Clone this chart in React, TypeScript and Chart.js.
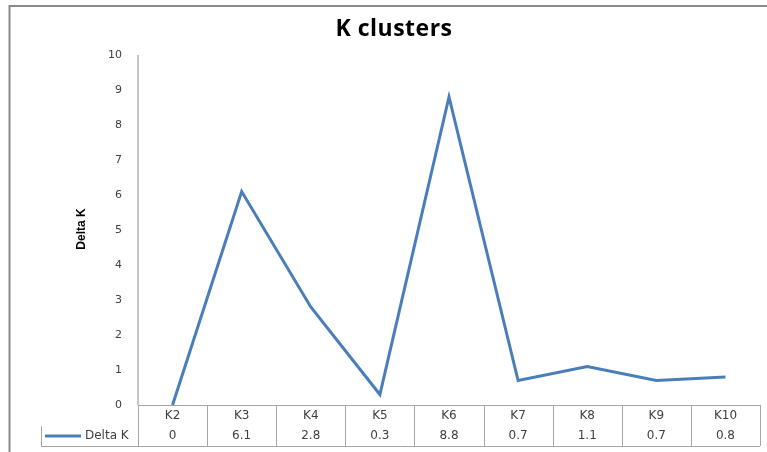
import React, { useEffect, useRef } from "react";
import { Chart, registerables } from "chart.js";

Chart.register(...registerables);

const categories = ["K2", "K3", "K4", "K5", "K6", "K7", "K8", "K9", "K10"];
const deltaK = [0, 6.1, 2.8, 0.3, 8.8, 0.7, 1.1, 0.7, 0.8];
const seriesName = "Delta K";
const chartTitle = "K clusters";
const yTitle = "Delta K";
const yMin = 0;
const yMax = 10;
const yStep = 1;

const LINE_COLOR = "#4A7EBB";
const GRID_GRAY = "#a6a6a6";
const TEXT = "#404040";
const TABLE_FONT = "12px 'DejaVu Sans', 'Liberation Sans', sans-serif";

const decorPlugin = {
  id: "decor",
  beforeDraw(chart: any) {
    const { ctx, width, height, chartArea } = chart;
    ctx.save();
    ctx.fillStyle = "#ffffff";
    ctx.fillRect(0, 0, width, height);
    // frame
    ctx.strokeStyle = "#8a8a8a";
    ctx.lineWidth = 2;
    ctx.beginPath();
    ctx.moveTo(9.5, height);
    ctx.lineTo(9.5, 6);
    ctx.lineTo(width, 6);
    ctx.stroke();
    // title
    ctx.fillStyle = "#000000";
    ctx.font = "bold 23px 'Open Sans', 'DejaVu Sans', sans-serif";
    ctx.textAlign = "center";
    ctx.textBaseline = "middle";
    try {
      (ctx as any).letterSpacing = "0.5px";
    } catch (e) {}
    ctx.fillText(chartTitle, 394, 29);
    try {
      (ctx as any).letterSpacing = "0px";
    } catch (e) {}
    // y title
    ctx.save();
    ctx.translate(82, 229);
    ctx.rotate(-Math.PI / 2);
    ctx.font = "bold 12px 'Liberation Sans Narrow', 'Liberation Sans', sans-serif";
    ctx.fillText(yTitle, 0, 0);
    ctx.restore();
    // y axis line
    ctx.strokeStyle = "#c4c4c4";
    ctx.lineWidth = 2;
    ctx.beginPath();
    ctx.moveTo(chartArea.left, chartArea.top);
    ctx.lineTo(chartArea.left, chartArea.bottom);
    ctx.stroke();
    ctx.restore();
  },
  afterDraw(chart: any) {
    const { ctx, chartArea } = chart;
    const xs = chart.scales.x;
    const n = categories.length;
    const left = chartArea.left;
    const right = chartArea.right;
    const colW = (right - left) / n;
    const top = chartArea.bottom;
    const mid = top + 21;
    const bottom = top + 41;
    const legLeft = 41;
    ctx.save();
    ctx.strokeStyle = GRID_GRAY;
    ctx.lineWidth = 1;
    ctx.beginPath();
    ctx.moveTo(left, top + 0.5);
    ctx.lineTo(right, top + 0.5);
    ctx.stroke();
    ctx.beginPath();
    ctx.moveTo(legLeft, bottom + 0.5);
    ctx.lineTo(right, bottom + 0.5);
    ctx.stroke();
    for (let i = 0; i <= n; i++) {
      const x = Math.round(left + i * colW) + 0.5;
      ctx.beginPath();
      ctx.moveTo(x, top);
      ctx.lineTo(x, bottom);
      ctx.stroke();
    }
    ctx.beginPath();
    ctx.moveTo(legLeft + 0.5, mid);
    ctx.lineTo(legLeft + 0.5, bottom);
    ctx.stroke();
    ctx.fillStyle = TEXT;
    ctx.font = TABLE_FONT;
    ctx.textAlign = "center";
    ctx.textBaseline = "middle";
    for (let i = 0; i < n; i++) {
      const cx = xs.getPixelForValue(i);
      ctx.fillText(categories[i], cx, top + 11);
      ctx.fillText(String(deltaK[i]), cx, mid + 10);
    }
    ctx.strokeStyle = LINE_COLOR;
    ctx.lineWidth = 3;
    ctx.beginPath();
    ctx.moveTo(45, mid + 10);
    ctx.lineTo(81, mid + 10);
    ctx.stroke();
    ctx.textAlign = "left";
    ctx.fillText(seriesName, 85, mid + 10);
    ctx.restore();
  },
};

export default function App() {
  const ref = useRef<HTMLCanvasElement | null>(null);
  useEffect(() => {
    document.body.style.margin = "0";
    if (!ref.current) return;
    const chart = new Chart(ref.current, {
      type: "line",
      data: {
        labels: categories,
        datasets: [
          {
            label: seriesName,
            data: deltaK,
            borderColor: LINE_COLOR,
            backgroundColor: LINE_COLOR,
            borderWidth: 3,
            pointRadius: 0,
            tension: 0,
            clip: false as any,
          },
        ],
      },
      options: {
        responsive: false,
        animation: false,
        layout: { padding: { top: 55, bottom: 47, left: 0, right: 7 } },
        plugins: {
          legend: { display: false },
          title: { display: false },
          tooltip: { enabled: false },
        },
        scales: {
          x: {
            type: "category",
            offset: true,
            display: false,
          },
          y: {
            min: yMin,
            max: yMax,
            afterFit: (s: any) => {
              s.width = 138;
            },
            ticks: {
              stepSize: yStep,
              color: TEXT,
              padding: 16,
              font: { family: "'DejaVu Sans', 'Liberation Sans', sans-serif", size: 11 },
            },
            grid: { display: false, drawTicks: false },
            border: { display: false },
          },
        },
      },
      plugins: [decorPlugin],
    });
    return () => chart.destroy();
  }, []);
  return (
    <div style={{ position: "absolute", left: 0, top: 0, width: 767, height: 452 }}>
      <canvas ref={ref} width={767} height={452} style={{ width: 767, height: 452 }} />
    </div>
  );
}
